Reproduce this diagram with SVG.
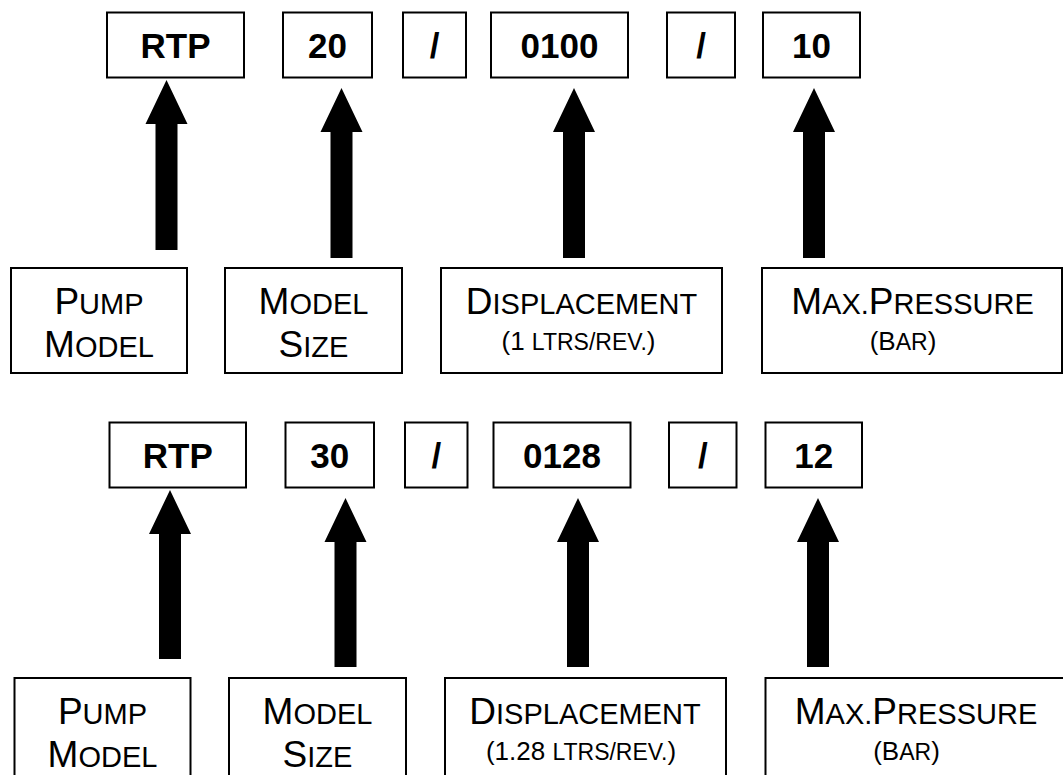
<svg xmlns="http://www.w3.org/2000/svg" width="1063" height="775" viewBox="0 0 1063 775">
<style>
.box{fill:#fff;stroke:#000;stroke-width:2}
.code{font-family:"Liberation Sans",Arial,sans-serif;font-weight:bold;font-size:35px;text-anchor:middle;fill:#000}
.lbl{font-family:"Liberation Sans",Arial,sans-serif;text-anchor:middle;fill:#000}
.c{font-size:37px}
.s{font-size:29px}
.c2{font-size:26px}
.s2{font-size:23px}
.arrow{fill:#000;stroke:none}
</style>
<rect width="1063" height="775" fill="#fff"/>

<g id="connectors">
  <path class="arrow" d="M166.5,80 L187.5,124 L177.5,124 L177.5,250 L155.5,250 L155.5,124 L145.5,124 Z"/>
  <path class="arrow" d="M341.5,88 L362.5,132 L352.5,132 L352.5,258 L330.5,258 L330.5,132 L320.5,132 Z"/>
  <path class="arrow" d="M574,88 L595,132 L585,132 L585,258 L563,258 L563,132 L553,132 Z"/>
  <path class="arrow" d="M814,88 L835,132 L825,132 L825,258 L803,258 L803,132 L793,132 Z"/>
  <path class="arrow" d="M170,490 L191,534 L181,534 L181,659 L159,659 L159,534 L149,534 Z"/>
  <path class="arrow" d="M345.5,498 L366.5,542 L356.5,542 L356.5,667 L334.5,667 L334.5,542 L324.5,542 Z"/>
  <path class="arrow" d="M578,498 L599,542 L589,542 L589,667 L567,667 L567,542 L557,542 Z"/>
  <path class="arrow" d="M818,498 L839,542 L829,542 L829,667 L807,667 L807,542 L797,542 Z"/>
</g>

<g id="code1-rtp"><rect class="box" x="107" y="12.5" width="137" height="65"/><text class="code" x="175.5" y="58">RTP</text></g>
<g id="code1-size"><rect class="box" x="283" y="12.5" width="89" height="65"/><text class="code" x="327.5" y="58">20</text></g>
<g id="code1-sep1"><rect class="box" x="403" y="12.5" width="63" height="65"/><text class="code" x="434.5" y="58">/</text></g>
<g id="code1-disp"><rect class="box" x="491" y="12.5" width="137" height="65"/><text class="code" x="559.5" y="58">0100</text></g>
<g id="code1-sep2"><rect class="box" x="667" y="12.5" width="68" height="65"/><text class="code" x="701" y="58">/</text></g>
<g id="code1-press"><rect class="box" x="763" y="12.5" width="97" height="65"/><text class="code" x="811.5" y="58">10</text></g>

<g id="label1-pump"><rect class="box" x="11" y="268" width="176" height="105"/>
  <text class="lbl" x="99" y="314"><tspan class="c">P</tspan><tspan class="s">UMP</tspan></text>
  <text class="lbl" x="99" y="357"><tspan class="c">M</tspan><tspan class="s">ODEL</tspan></text></g>
<g id="label1-size"><rect class="box" x="225" y="268" width="177" height="105"/>
  <text class="lbl" x="313.5" y="314"><tspan class="c">M</tspan><tspan class="s">ODEL</tspan></text>
  <text class="lbl" x="313.5" y="357"><tspan class="c">S</tspan><tspan class="s">IZE</tspan></text></g>
<g id="label1-disp"><rect class="box" x="441" y="268" width="281" height="105"/>
  <text class="lbl" x="581.5" y="314"><tspan class="c">D</tspan><tspan class="s">ISPLACEMENT</tspan></text>
  <text class="lbl" x="578.5" y="350"><tspan class="c2">(1 </tspan><tspan class="s2">LTRS/REV.</tspan><tspan class="c2">)</tspan></text></g>
<g id="label1-press"><rect class="box" x="762" y="268" width="300" height="105"/>
  <text class="lbl" x="912.5" y="314"><tspan class="c">M</tspan><tspan class="s">AX.</tspan><tspan class="c">P</tspan><tspan class="s">RESSURE</tspan></text>
  <text class="lbl" x="903" y="350"><tspan class="c2">(B</tspan><tspan class="s2">AR</tspan><tspan class="c2">)</tspan></text></g>

<g id="code2-rtp"><rect class="box" x="109.5" y="422.5" width="136.5" height="65"/><text class="code" x="177.75" y="468">RTP</text></g>
<g id="code2-size"><rect class="box" x="285.5" y="422.5" width="88.5" height="65"/><text class="code" x="329.75" y="468">30</text></g>
<g id="code2-sep1"><rect class="box" x="405" y="422.5" width="62.5" height="65"/><text class="code" x="436.25" y="468">/</text></g>
<g id="code2-disp"><rect class="box" x="493.5" y="422.5" width="137" height="65"/><text class="code" x="562" y="468">0128</text></g>
<g id="code2-sep2"><rect class="box" x="669" y="422.5" width="67.5" height="65"/><text class="code" x="702.75" y="468">/</text></g>
<g id="code2-press"><rect class="box" x="765.5" y="422.5" width="96.5" height="65"/><text class="code" x="813.75" y="468">12</text></g>

<g id="label2-pump"><rect class="box" x="14.5" y="678" width="176" height="110"/>
  <text class="lbl" x="102.5" y="724"><tspan class="c">P</tspan><tspan class="s">UMP</tspan></text>
  <text class="lbl" x="102.5" y="767"><tspan class="c">M</tspan><tspan class="s">ODEL</tspan></text></g>
<g id="label2-size"><rect class="box" x="229" y="678" width="177" height="110"/>
  <text class="lbl" x="317.5" y="724"><tspan class="c">M</tspan><tspan class="s">ODEL</tspan></text>
  <text class="lbl" x="317.5" y="767"><tspan class="c">S</tspan><tspan class="s">IZE</tspan></text></g>
<g id="label2-disp"><rect class="box" x="445" y="678" width="281" height="110"/>
  <text class="lbl" x="585" y="724"><tspan class="c">D</tspan><tspan class="s">ISPLACEMENT</tspan></text>
  <text class="lbl" x="581" y="760"><tspan class="c2">(1.28 </tspan><tspan class="s2">LTRS/REV.</tspan><tspan class="c2">)</tspan></text></g>
<g id="label2-press"><rect class="box" x="765.5" y="678" width="301" height="110"/>
  <text class="lbl" x="916" y="724"><tspan class="c">M</tspan><tspan class="s">AX.</tspan><tspan class="c">P</tspan><tspan class="s">RESSURE</tspan></text>
  <text class="lbl" x="906.5" y="760"><tspan class="c2">(B</tspan><tspan class="s2">AR</tspan><tspan class="c2">)</tspan></text></g>
</svg>
